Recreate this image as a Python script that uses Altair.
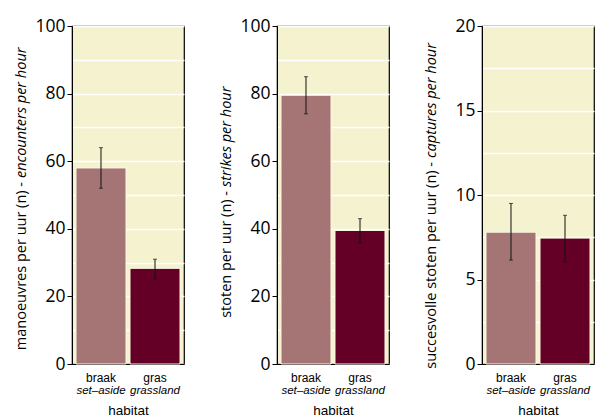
import altair as alt
import pandas as pd

habitat = ["braak", "gras"]
habitat_en = ["set–aside", "grassland"]
bar_colors = ["#A57576", "#640026"]

encounters = [58.0, 28.3]
encounters_lo = [52.0, 25.2]
encounters_hi = [64.0, 31.0]

strikes = [79.5, 39.5]
strikes_lo = [74.0, 36.0]
strikes_hi = [85.0, 43.0]

captures = [7.8, 7.45]
captures_lo = [6.15, 6.05]
captures_hi = [9.5, 8.8]

grid_100 = [0, 10, 20, 30, 40, 50, 60, 70, 80, 90, 100]
grid_20 = [0, 2.5, 5, 7.5, 10, 12.5, 15, 17.5, 20]

titles = [
    ("manoeuvres per uur (n) -", "encounters per hour"),
    ("stoten per uur (n) -", "strikes per hour"),
    ("succesvolle stoten per uur (n) -", "captures per hour"),
]

W, H = 112, 338
FONT = "Open Sans"
LFONT = "Liberation Sans"


def panel(vals, lo, hi, dmax, grid, label_step, title_parts, junction):
    df = pd.DataFrame({"habitat": habitat, "en": habitat_en, "v": vals, "lo": lo, "hi": hi})
    xenc = alt.X(
        "habitat:N",
        sort=habitat,
        scale=alt.Scale(paddingInner=0.074, paddingOuter=0.074),
        axis=alt.Axis(
            title="habitat", labelAngle=0, ticks=False, labelFont=LFONT,
            labelFontSize=12, labelColor="black", labelPadding=8,
            titleFont=LFONT, titleFontSize=13.5, titleFontWeight="normal",
            titleColor="black", titlePadding=20, domainColor="black",
        ),
    )
    yaxis = alt.Axis(
        values=grid, grid=True, gridColor="white", gridWidth=1.3,
        labelExpr=f"datum.value % {label_step} == 0 ? datum.label : ''",
        tickOpacity={"condition": {"test": f"datum.value % {label_step} != 0", "value": 0}, "value": 1},
        tickColor="black", tickSize=5, domainColor="black",
        labelFont=FONT, labelFontSize=17.5, labelColor="black", labelPadding=2,
        title=None,
    )
    yscale = alt.Scale(domain=[0, dmax], nice=False)
    base = alt.Chart(df)
    bars = base.mark_bar(stroke="#FBF8E4", strokeWidth=1).encode(
        x=xenc,
        y=alt.Y("v:Q", scale=yscale, axis=yaxis),
        color=alt.Color("habitat:N", scale=alt.Scale(domain=habitat, range=bar_colors), legend=None),
    )
    err = base.mark_errorbar(
        ticks={"size": 4, "color": "#111111"}, rule={"color": "#111111", "strokeWidth": 1}
    ).encode(
        x=alt.X("habitat:N", sort=habitat),
        y=alt.Y("lo:Q", scale=yscale, axis=yaxis),
        y2="hi:Q",
    )
    en = base.mark_text(fontStyle="italic", font=LFONT, fontSize=11.5, baseline="middle", color="black").encode(
        x=alt.X("habitat:N", sort=habitat),
        y=alt.value(H + 27),
        text="en:N",
    )
    t1 = alt.Chart(pd.DataFrame({"t": [title_parts[0]]})).mark_text(
        angle=270, align="right", baseline="middle", font=FONT, fontSize=14.5, color="black"
    ).encode(x=alt.value(-50), y=alt.value(junction + 4), text="t:N")
    t2 = alt.Chart(pd.DataFrame({"t": [title_parts[1]]})).mark_text(
        angle=270, align="left", baseline="middle", font=FONT, fontSize=14.5, fontStyle="italic", color="black"
    ).encode(x=alt.value(-50), y=alt.value(junction), text="t:N")
    return alt.layer(bars, err, en, t1, t2).properties(width=W, height=H)


p1 = panel(encounters, encounters_lo, encounters_hi, 100, grid_100, 20, titles[0], 152)
p2 = panel(strikes, strikes_lo, strikes_hi, 100, grid_100, 20, titles[1], 161)
p3 = panel(captures, captures_lo, captures_hi, 20, grid_20, 5, titles[2], 132)

chart = alt.hconcat(p1, p2, p3, spacing=93, bounds="flush").configure_view(
    fill="#F5F2CF", stroke="black", strokeWidth=1.2
).properties(padding={"left": 5, "top": 8, "right": 0, "bottom": 0}, background="white")

chart.save("out.html", embed_options={"renderer": "svg", "actions": False})
